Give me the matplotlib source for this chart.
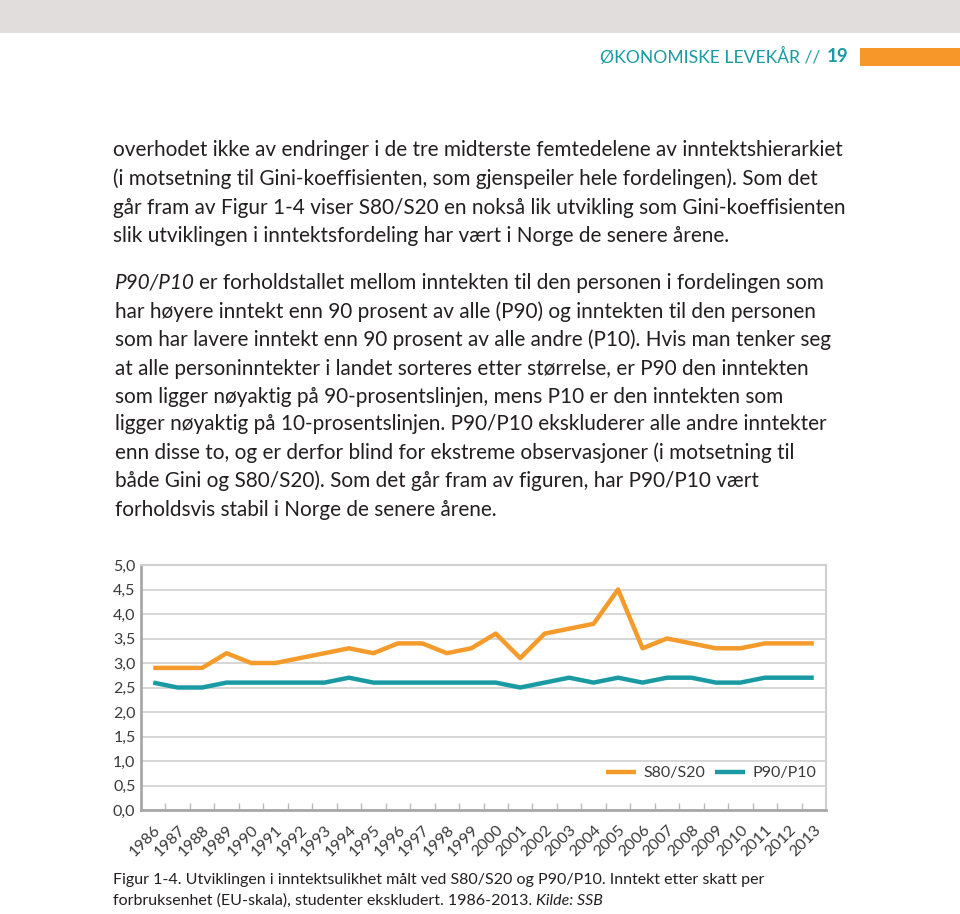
import matplotlib
matplotlib.use("Agg")
import matplotlib.pyplot as plt
from matplotlib.patches import Rectangle

years = list(range(1986, 2014))
s80s20 = [2.9, 2.9, 2.9, 3.2, 3.0, 3.0, 3.1, 3.2, 3.3, 3.2, 3.4, 3.4, 3.2, 3.3,
          3.6, 3.1, 3.6, 3.7, 3.8, 4.5, 3.3, 3.5, 3.4, 3.3, 3.3, 3.4, 3.4, 3.4]
p90p10 = [2.6, 2.5, 2.5, 2.6, 2.6, 2.6, 2.6, 2.6, 2.7, 2.6, 2.6, 2.6, 2.6, 2.6,
          2.6, 2.5, 2.6, 2.7, 2.6, 2.7, 2.6, 2.7, 2.7, 2.6, 2.6, 2.7, 2.7, 2.7]
yticks = [0.0, 0.5, 1.0, 1.5, 2.0, 2.5, 3.0, 3.5, 4.0, 4.5, 5.0]
ytick_labels = [f"{v:.1f}".replace(".", ",") for v in yticks]
series_names = ["S80/S20", "P90/P10"]

ORANGE = "#f49b2c"
TEAL = "#1a9ba3"
TEXT = "#231f20"

W, H = 960, 914
fig = plt.figure(figsize=(W / 100, H / 100), dpi=100)
fig.patch.set_facecolor("white")
renderer = fig.canvas.get_renderer()

def fx(x):
    return x / W

def fy(y):
    return 1 - y / H

# top gray band
fig.patches.append(Rectangle((0, fy(33)), 1, 33 / H, transform=fig.transFigure,
                             facecolor="#e0dddc", edgecolor="none"))
# orange header bar
fig.patches.append(Rectangle((fx(860), fy(66)), 100 / W, 18 / H, transform=fig.transFigure,
                             facecolor="#f7972a", edgecolor="none"))

FONT = "Lato"

# header text
t19 = fig.text(fx(848), fy(57), "19", ha="right", va="center", fontsize=13.5,
               fontweight="bold", color=TEAL, family=FONT)
bb = t19.get_window_extent(renderer)
fig.text(bb.x0 / W - 6 / W, fy(57), "ØKONOMISKE LEVEKÅR //", ha="right", va="center",
         fontsize=12.6, fontweight="normal", color=TEAL, family=FONT)

# body text
body = [
    (150, 113, None, "overhodet ikke av endringer i de tre midterste femtedelene av inntektshierarkiet"),
    (179, 113, None, "(i motsetning til Gini-koeffisienten, som gjenspeiler hele fordelingen). Som det"),
    (208, 113, None, "går fram av Figur 1-4 viser S80/S20 en nokså lik utvikling som Gini-koeffisienten"),
    (236, 113, None, "slik utviklingen i inntektsfordeling har vært i Norge de senere årene."),
    (283, 115, "P90/P10", "er forholdstallet mellom inntekten til den personen i fordelingen som"),
    (312, 115, None, "har høyere inntekt enn 90 prosent av alle (P90) og inntekten til den personen"),
    (340, 115, None, "som har lavere inntekt enn 90 prosent av alle andre (P10). Hvis man tenker seg"),
    (369, 115, None, "at alle personinntekter i landet sorteres etter størrelse, er P90 den inntekten"),
    (397, 115, None, "som ligger nøyaktig på 90-prosentslinjen, mens P10 er den inntekten som"),
    (424, 115, None, "ligger nøyaktig på 10-prosentslinjen. P90/P10 ekskluderer alle andre inntekter"),
    (453, 115, None, "enn disse to, og er derfor blind for ekstreme observasjoner (i motsetning til"),
    (481, 115, None, "både Gini og S80/S20). Som det går fram av figuren, har P90/P10 vært"),
    (510, 115, None, "forholdsvis stabil i Norge de senere årene."),
]

# determine font size so that line 1 spans the target width
probe = fig.text(0, 0, body[0][3], fontsize=14, family=FONT)
wprobe = probe.get_window_extent(renderer).width
probe.remove()
body_fs = 14 * 733 / wprobe

for y, x, ital, rest in body:
    xpos = fx(x)
    if ital:
        ti = fig.text(xpos, fy(y), ital, ha="left", va="center", fontsize=body_fs,
                      style="italic", color=TEXT, family=FONT)
        xpos = (ti.get_window_extent(renderer).x1 + 4) / W
    fig.text(xpos, fy(y), rest, ha="left", va="center", fontsize=body_fs,
             color=TEXT, family=FONT)

# caption
cap1 = "Figur 1-4. Utviklingen i inntektsulikhet målt ved S80/S20 og P90/P10. Inntekt etter skatt per"
probe = fig.text(0, 0, cap1, fontsize=11, family=FONT)
wprobe = probe.get_window_extent(renderer).width
probe.remove()
cap_fs = 11 * 649 / wprobe
fig.text(fx(113), fy(880), cap1, ha="left", va="center", fontsize=cap_fs, color=TEXT, family=FONT)
tc = fig.text(fx(113), fy(901), "forbruksenhet (EU-skala), studenter ekskludert. 1986-2013. ",
              ha="left", va="center", fontsize=cap_fs, color=TEXT, family=FONT)
xe = tc.get_window_extent(renderer).x1 / W
fig.text(xe, fy(901), "Kilde: SSB", ha="left", va="center", fontsize=cap_fs,
         style="italic", color=TEXT, family=FONT)

# chart
LBL = "#3a3a3a"
ax = fig.add_axes([fx(141), fy(810), (826 - 141) / W, (810 - 565) / H])
x = list(range(len(years)))
ax.plot(x, s80s20, color=ORANGE, lw=3.2, solid_capstyle="butt", label=series_names[0], zorder=3)
ax.plot(x, p90p10, color=TEAL, lw=3.2, solid_capstyle="butt", label=series_names[1], zorder=3)
ax.set_xlim(-0.5, len(years) - 0.5)
ax.set_ylim(0, 5)
ax.set_yticks(yticks)
ax.set_yticklabels(ytick_labels, family=FONT, fontsize=11.5, color=LBL)
ax.yaxis.grid(True, color="#cfcfcf", lw=1.2)
ax.set_axisbelow(True)
ax.tick_params(axis="y", length=0, pad=4)
ax.set_xticks(x)
ax.set_xticklabels([str(yv) for yv in years], rotation=45, ha="right", rotation_mode="anchor",
                   family=FONT, fontsize=11.5, color=LBL)
ax.tick_params(axis="x", length=0, pad=9)
ax.set_xticks([i + 0.5 for i in range(len(years) - 1)], minor=True)
ax.tick_params(axis="x", which="minor", direction="in", length=5, color="#bbbbbb", width=1)
for side in ["left", "bottom"]:
    ax.spines[side].set_color("#a8a8a8")
    ax.spines[side].set_linewidth(2)
for side in ["top", "right"]:
    ax.spines[side].set_color("#cfcfcf")
    ax.spines[side].set_linewidth(1.5)

leg = ax.legend(loc="center right", bbox_to_anchor=((816 - 141) / 685, (810 - 773) / 245),
                ncol=2, frameon=False, prop={"family": FONT, "size": 11.5},
                handlelength=1.9, columnspacing=0.6, handletextpad=0.45,
                borderaxespad=0, borderpad=0)
for t in leg.get_texts():
    t.set_color(LBL)

fig.savefig("out.png", dpi=100, facecolor="white")
